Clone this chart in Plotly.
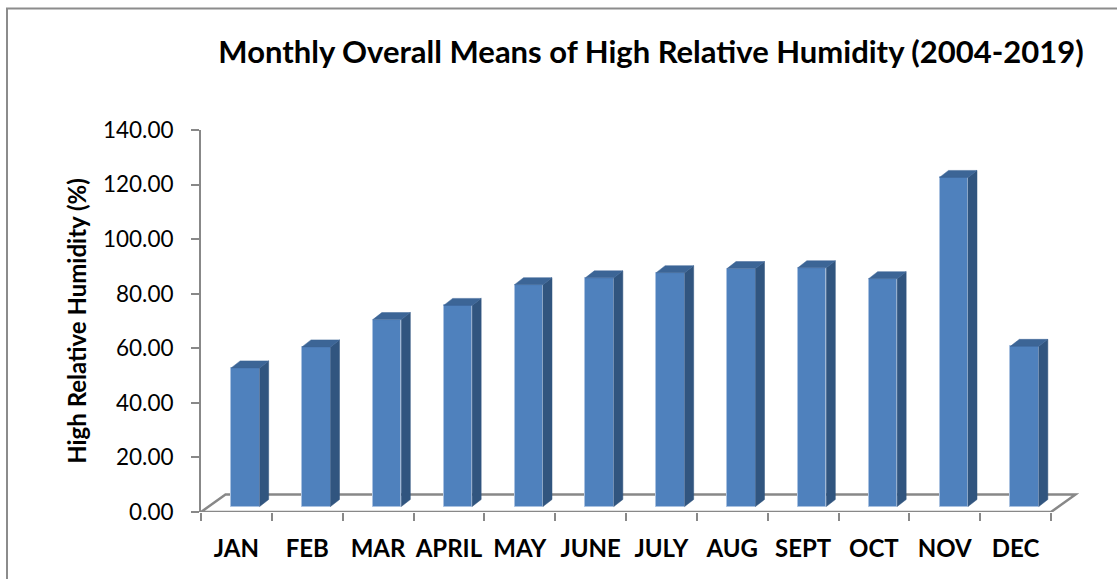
import plotly.graph_objects as go

# ---- data ----
months = ["JAN", "FEB", "MAR", "APRIL", "MAY", "JUNE", "JULY", "AUG", "SEPT", "OCT", "NOV", "DEC"]
humidity = [50.8, 58.5, 68.5, 73.7, 81.3, 83.8, 85.7, 87.2, 87.5, 83.5, 120.6, 58.7]
y_ticks = [0, 20, 40, 60, 80, 100, 120, 140]
y_ticktext = [f"{v:.2f}" for v in y_ticks]

TITLE = "Monthly Overall Means of High Relative Humidity (2004-2019)"
Y_TITLE = "High Relative Humidity (%)"

# ---- geometry (pixel based 3D look) ----
W, H = 1117, 579
ML = 201
MT = 130
MR = 38
MB = H - MT - 382
PX_X = (1051 - 201) / 12.0          # pixels per category
PX_Y = 382 / 140.0                  # pixels per unit
plot_w = W - ML - MR
plot_h = H - MT - MB
x_min = -0.5
x_max = x_min + plot_w / PX_X

bar_off = 9.0 / PX_X
bar_w = 28.5 / PX_X
base = 5.5 / PX_Y
dx = 9.0 / PX_X
dy = 7.0 / PX_Y
floor_dx = 24.5 / PX_X
floor_dy = 17.5 / PX_Y

FRONT = "#4F81BD"
SIDE = "#31557F"
TOP = "#3C6596"
EDGE = "#A9C1E0"
AXIS = "#888888"

xs = list(range(len(months)))

fig = go.Figure()

# front faces
fig.add_trace(go.Bar(
    x=[i + bar_off for i in xs], y=humidity, base=base, width=bar_w,
    marker=dict(color=FRONT, line=dict(color=EDGE, width=1)),
    hoverinfo="skip", showlegend=False,
))

# side faces and tops
sx, sy, tx, ty = [], [], [], []
for i, v in zip(xs, humidity):
    xl = i + bar_off - bar_w / 2
    xr = i + bar_off + bar_w / 2
    top = base + v
    sx += [xr, xr + dx, xr + dx, xr, xr, None]
    sy += [base, base + dy, top + dy, top, base, None]
    tx += [xl, xr, xr + dx, xl + dx, xl, None]
    ty += [top, top, top + dy, top + dy, top, None]

fig.add_trace(go.Scatter(x=sx, y=sy, mode="lines", fill="toself", fillcolor=SIDE,
                         line=dict(color=SIDE, width=0.5), hoverinfo="skip", showlegend=False))
fig.add_trace(go.Scatter(x=tx, y=ty, mode="lines", fill="toself", fillcolor=TOP,
                         line=dict(color=TOP, width=0.5), hoverinfo="skip", showlegend=False))

# floor
x0, x1 = -0.5, len(months) - 0.5
floor_path = (f"M {x0},0 L {x1},0 L {x1 + floor_dx},{floor_dy} "
              f"L {x0 + floor_dx},{floor_dy} Z")
fig.add_shape(type="path", path=floor_path, xref="x", yref="y",
              line=dict(color=AXIS, width=2.5), fillcolor="white", layer="below")


# outer chart border (extends past right / bottom edge); pixel -> paper
def px_to_paper_x(px):
    return (px - ML) / plot_w


def px_to_paper_y(py):
    return (H - MB - py) / plot_h


fig.add_shape(type="rect", xref="paper", yref="paper",
              x0=px_to_paper_x(7), x1=px_to_paper_x(W + 20),
              y0=px_to_paper_y(H + 20), y1=px_to_paper_y(8.5),
              line=dict(color="#8C8C8C", width=2), fillcolor="rgba(0,0,0,0)", layer="below")

FONT = "Lato"

fig.update_layout(
    width=W, height=H,
    margin=dict(l=ML, r=MR, t=MT, b=MB, autoexpand=False),
    paper_bgcolor="white", plot_bgcolor="white",
    font=dict(family=FONT, color="black"),
    bargap=0,
    title=dict(text=f"<b>{TITLE}</b>", font=dict(family=FONT, size=31, color="black"),
               x=651 / W, xanchor="center", xref="container",
               y=1 - 52 / H, yanchor="middle", yref="container"),
    showlegend=False,
)

fig.update_xaxes(
    range=[x_min, x_max],
    tickmode="array", tickvals=xs, ticktext=[f"<b>{m}</b>" for m in months],
    tickfont=dict(family=FONT, size=24, color="black"),
    ticks="", showline=False, showgrid=False, zeroline=False,
    ticklabelstandoff=20,
    minor=dict(tickmode="array", tickvals=[i - 0.5 for i in range(len(months) + 1)],
               ticks="outside", ticklen=8, tickwidth=2, tickcolor=AXIS, showgrid=False),
    fixedrange=True,
)

fig.update_yaxes(
    range=[0, 140],
    tickmode="array", tickvals=y_ticks, ticktext=y_ticktext,
    tickfont=dict(family=FONT, size=22.5, color="black"),
    ticks="outside", ticklen=8, tickwidth=2, tickcolor=AXIS,
    ticklabelstandoff=13,
    showline=True, linecolor=AXIS, linewidth=2,
    showgrid=False, zeroline=False,
    title=dict(text=f"<b>{Y_TITLE}</b>", font=dict(family=FONT, size=24, color="black"),
               standoff=10),
    fixedrange=True,
)

fig.write_html("out.html", config={"displayModeBar": False},
               post_script="document.body.style.margin='0px';")
